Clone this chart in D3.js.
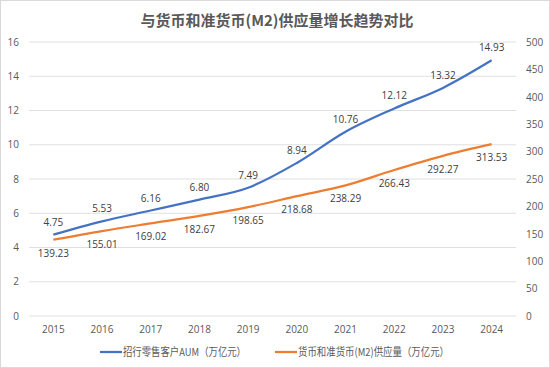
<!DOCTYPE html>
<html><head><meta charset="utf-8">
<script src="https://cdn.jsdelivr.net/npm/d3@7"></script>
<style>body{margin:0;background:#fff;} svg{display:block;font-family:"Noto Sans CJK SC","Open Sans",sans-serif;}</style>
</head><body>
<svg id="c" width="550" height="368"></svg>
<script>
const years = ["2015","2016","2017","2018","2019","2020","2021","2022","2023","2024"];
const aum = [4.75,5.53,6.16,6.80,7.49,8.94,10.76,12.12,13.32,14.93];
const m2 = [139.23,155.01,169.02,182.67,198.65,218.68,238.29,266.43,292.27,313.53];
const leftTicks = [0,2,4,6,8,10,12,14,16];
const rightTicks = [0,50,100,150,200,250,300,350,400,450,500];
const seriesNames = ["招行零售客户AUM（万亿元）","货币和准货币(M2)供应量（万亿元）"];
const title = "与货币和准货币(M2)供应量增长趋势对比";
const colors = ["#4472C4","#ED7D31"];

const svg = d3.select("#c");
svg.append("rect").attr("x",0.5).attr("y",0.5).attr("width",549).attr("height",367)
  .attr("fill","#fff").attr("stroke","#d9d9d9");
const m = {l:29,r:34,t:42,b:52};
const W=550,H=368;
const x = d3.scaleBand().domain(years).range([m.l, W-m.r]);
const yL = d3.scaleLinear().domain([0,16]).range([H-m.b, m.t]);
const yR = d3.scaleLinear().domain([0,500]).range([H-m.b, m.t]);
const cx = d => x(d)+x.bandwidth()/2;

svg.append("text").attr("x",277).attr("y",26).attr("text-anchor","middle")
  .attr("font-size",15).attr("font-weight","bold").attr("fill","#595959").text(title);

svg.append("g").selectAll("line").data(leftTicks).join("line")
  .attr("x1",m.l).attr("x2",W-m.r).attr("y1",d=>yL(d)).attr("y2",d=>yL(d))
  .attr("stroke","#e0e0e0").attr("stroke-width",1);

const la = svg.append("g").attr("transform",`translate(${m.l},0)`)
  .call(d3.axisLeft(yL).tickValues(leftTicks).tickSize(0).tickPadding(10));
const ra = svg.append("g").attr("transform",`translate(${W-m.r},0)`)
  .call(d3.axisRight(yR).tickValues(rightTicks).tickSize(0).tickPadding(10));
const ba = svg.append("g").attr("transform",`translate(0,${H-m.b})`)
  .call(d3.axisBottom(x).tickSize(0).tickPadding(10));
[la,ra,ba].forEach(g=>{g.select(".domain").remove();
  g.selectAll("text").attr("fill","#595959").attr("font-size",10).attr("font-family","'Open Sans',sans-serif");});
la.selectAll("text").attr("x",-10);

const line = (ys) => d3.line().x((d,i)=>cx(years[i])).y(d=>ys(d)).curve(d3.curveCardinal.tension(0));
svg.append("path").datum(aum).attr("d",line(yL)).attr("fill","none").attr("stroke",colors[0]).attr("stroke-width",2.25);
svg.append("path").datum(m2).attr("d",line(yR)).attr("fill","none").attr("stroke",colors[1]).attr("stroke-width",2.25);

svg.append("g").selectAll("text").data(aum).join("text")
  .attr("x",(d,i)=>cx(years[i])).attr("y",d=>yL(d)-9).attr("text-anchor","middle")
  .attr("font-size",10).attr("fill","#404040").attr("font-family","'Open Sans',sans-serif").text(d=>d.toFixed(2));
svg.append("g").selectAll("text").data(m2).join("text")
  .attr("x",(d,i)=>cx(years[i])).attr("y",d=>yR(d)+17).attr("text-anchor","middle")
  .attr("font-size",10).attr("fill","#404040").attr("font-family","'Open Sans',sans-serif").text(d=>d.toFixed(2));

const leg = [{x:100,name:seriesNames[0],c:colors[0],w:123},{x:275,name:seriesNames[1],c:colors[1],w:151}];
const lg = svg.append("g").selectAll("g").data(leg).join("g").attr("transform",d=>`translate(${d.x},352)`);
lg.append("line").attr("x1",0).attr("x2",22).attr("stroke",d=>d.c).attr("stroke-width",2.25);
lg.append("text").attr("x",23).attr("y",4).attr("font-size",11).attr("fill","#595959")
  .attr("textLength",d=>d.w).attr("lengthAdjust","spacingAndGlyphs").text(d=>d.name);
</script>
</body></html>
